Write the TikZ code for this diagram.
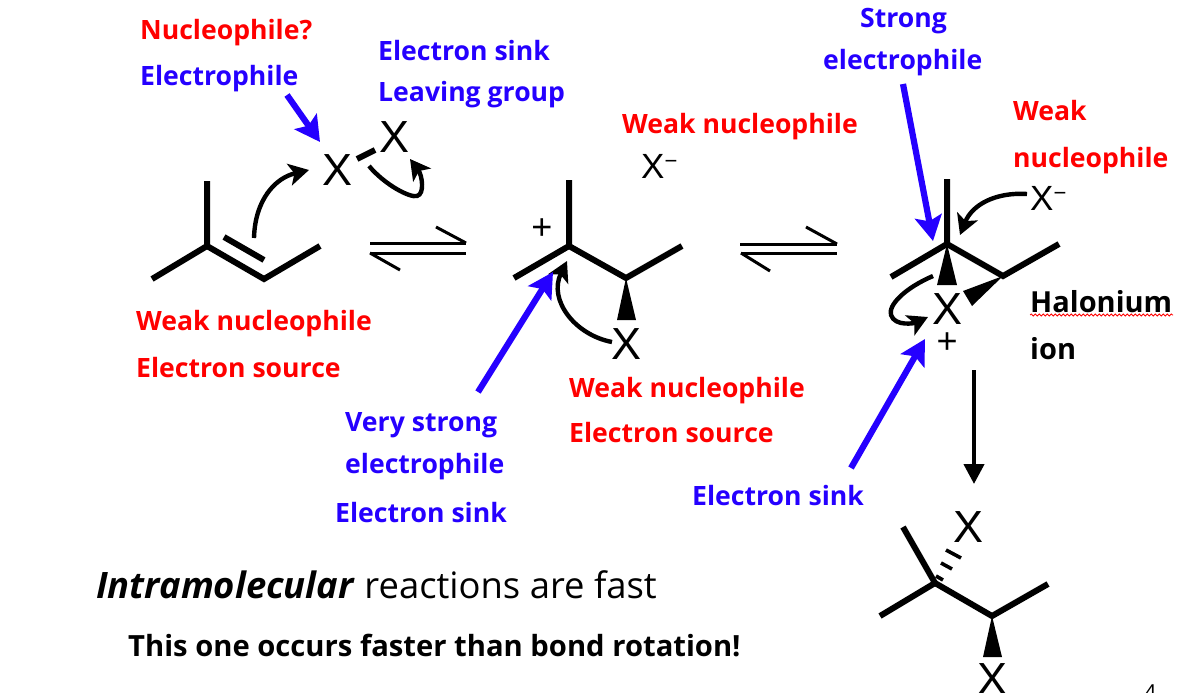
\documentclass[tikz,border=0pt]{standalone}
\usepackage{fontspec}
\setmainfont{Open Sans}
\newfontfamily\chemfont{Liberation Sans}
\usetikzlibrary{arrows.meta,decorations.pathmorphing}
\definecolor{lblred}{HTML}{FF0000}
\definecolor{lblblue}{HTML}{2500FF}
\tikzset{
  x=1pt,y=-1pt,
  lbl/.style={anchor=base west,inner sep=0,font=\fontsize{26.6}{26.6}\selectfont\bfseries},
  redlbl/.style={lbl,text=lblred},
  bluelbl/.style={lbl,text=lblblue},
  blacklbl/.style={lbl,text=black,font=\fontsize{29}{29}\selectfont\bfseries},
  atomx/.style={inner sep=0,font=\chemfont\fontsize{45}{45}\selectfont},
  ionx/.style={anchor=base west,inner sep=0,font=\chemfont\fontsize{35}{35}\selectfont},
  chg/.style={inner sep=0,font=\chemfont\fontsize{36}{36}\selectfont},
  bond/.style={line width=6pt,black},
  wedge/.style={fill=black,draw=none},
  hash/.style={line width=3.6pt,black},
  curly/.style={line width=4.4pt,black,-{Stealth[length=20pt,width=22pt,inset=5pt]}},
  bluearrow/.style={line width=6.2pt,lblblue,-{Stealth[length=25pt,width=27pt,inset=5pt]}},
  eqline/.style={line width=3pt,black},
  eqbarb/.style={line width=3pt,black},
}
\newcommand{\minussup}{\raisebox{10pt}{\fontsize{22}{22}\selectfont −}}
\begin{document}
\begin{tikzpicture}
\fill[white] (0,0) rectangle (1199,693);
\useasboundingbox (0,0) rectangle (1199,693);
% --- molecule 1
\coordinate (a1) at (207,246); \coordinate (a2) at (207,181); \coordinate (a3) at (152,279);
\coordinate (a4) at (264,279); \coordinate (a5) at (320,246);
\coordinate (a6) at (224,237); \coordinate (a7) at (264,260);
\draw[bond,line join=miter] (a2) -- (a1) -- (a3);
\draw[bond,line join=miter] (a1) -- (a4) -- (a5);
\draw[bond] (a6) -- (a7);
\node[atomx] (x1) at (338,170) {X};
\node[atomx] (x2) at (395,137) {X};
\coordinate (b1) at (357,159); \coordinate (b2) at (375,150);
\draw[bond] (b1) -- (b2);
\coordinate (c1) at (254,238); \coordinate (c2) at (309,170);
\draw[curly] (c1) .. controls (255,200) and (275,178) .. (c2);
\coordinate (c3) at (369,166); \coordinate (c4) at (410,159);
\draw[curly] (c3) .. controls (385,185) and (410,198) .. (417,196) .. controls (425,194) and (422,175) .. (c4);
\coordinate (d1) at (287,95); \coordinate (d2) at (320,142);
\draw[bluearrow] (d1) -- (d2);
% --- equilibrium 1
\coordinate (e1) at (370,243); \coordinate (e2) at (466,243); \coordinate (e3) at (436,227);
\coordinate (e4) at (370,253); \coordinate (e5) at (466,253); \coordinate (e6) at (400,270);
\draw[eqline] (e1) -- (e2); \draw[eqbarb] (e3) -- (e2);
\draw[eqline] (e4) -- (e5); \draw[eqbarb] (e4) -- (e6);
% --- molecule 2
\coordinate (f1) at (569,246); \coordinate (f2) at (569,180); \coordinate (f3) at (514,278);
\coordinate (f4) at (626,278); \coordinate (f5) at (682,246);
\coordinate (f6) at (617,320); \coordinate (f7) at (636,320);
\draw[bond] (f2) -- (f1) -- (f3);
\draw[bond] (f1) -- (f4) -- (f5);
\fill[wedge] (f4) -- (f6) -- (f7) -- cycle;
\node[atomx] (x3) at (626,344) {X};
\node[chg] (p1) at (542,229) {+};
\node[ionx] (x4) at (641,178) {X\minussup};
\coordinate (g1) at (612,342); \coordinate (g2) at (567,261);
\draw[curly] (g1) .. controls (575,335) and (548,300) .. (g2);
\coordinate (h1) at (478,392); \coordinate (h2) at (553,272);
\draw[bluearrow] (h1) -- (h2);
% --- equilibrium 2
\coordinate (i1) at (740,244); \coordinate (i2) at (837,244); \coordinate (i3) at (806,227);
\coordinate (i4) at (741,253); \coordinate (i5) at (837,253); \coordinate (i6) at (770,271);
\draw[eqline] (i1) -- (i2); \draw[eqbarb] (i3) -- (i2);
\draw[eqline] (i4) -- (i5); \draw[eqbarb] (i4) -- (i6);
% --- molecule 3
\coordinate (j1) at (947,244); \coordinate (j2) at (947,179); \coordinate (j3) at (891,277);
\coordinate (j4) at (1003,276); \coordinate (j5) at (1059,244);
\coordinate (j6) at (937,285); \coordinate (j7) at (957,285);
\coordinate (j8) at (963,291); \coordinate (j9) at (972,306);
\draw[bond] (j2) -- (j1) -- (j3);
\draw[bond] (j1) -- (j4) -- (j5);
\fill[wedge] (j1) -- (j6) -- (j7) -- cycle;
\fill[wedge] (j4) -- (j8) -- (j9) -- cycle;
\node[atomx] (x5) at (947,309) {X};
\node[chg] (p2) at (947,343) {+};
\node[ionx] (x6) at (1030,210) {X\minussup};
\coordinate (k1) at (1027,194); \coordinate (k2) at (960,235);
\draw[curly] (k1) .. controls (995,192) and (972,205) .. (k2);
\coordinate (k3) at (933,276); \coordinate (k4) at (928,317);
\draw[curly] (k3) .. controls (905,288) and (888,305) .. (891,315) .. controls (895,327) and (915,323) .. (k4);
\coordinate (l1) at (903,84); \coordinate (l2) at (933,241);
\draw[bluearrow] (l1) -- (l2);
\coordinate (l3) at (851,468); \coordinate (l4) at (925,339);
\draw[bluearrow] (l3) -- (l4);
\coordinate (m1) at (974,370); \coordinate (m2) at (974,484);
\draw[line width=4.2pt,black,-{Stealth[length=20pt,width=20pt,inset=0pt]}] (m1) -- (m2);
% --- molecule 4
\coordinate (n1) at (935,583); \coordinate (n2) at (903,527); \coordinate (n3) at (880,616);
\coordinate (n4) at (992,616); \coordinate (n5) at (1048,584);
\coordinate (n6) at (983,657); \coordinate (n7) at (1002,657);
\draw[bond] (n2) -- (n1) -- (n3);
\draw[bond] (n1) -- (n4) -- (n5);
\fill[wedge] (n4) -- (n6) -- (n7) -- cycle;
\node[atomx] (x7) at (968,527) {X};
\node[atomx] (x8) at (992,679) {X};
\coordinate (o1) at (936,576); \coordinate (o2) at (943,580);
\coordinate (o3) at (941,563); \coordinate (o4) at (952,569);
\coordinate (o5) at (946,550); \coordinate (o6) at (961,558);
\draw[hash] (o1) -- (o2); \draw[hash] (o3) -- (o4); \draw[hash] (o5) -- (o6);
% --- labels
\node[redlbl] (t1) at (140,40) {Nucleophile?};
\node[bluelbl] (t2) at (140,85) {Electrophile};
\node[bluelbl] (t3) at (378,61) {Electron sink};
\node[bluelbl] (t4) at (378,101) {Leaving group};
\node[redlbl] (t5) at (622,133) {Weak nucleophile};
\node[bluelbl] (t6) at (860,28) {Strong};
\node[bluelbl] (t7) at (823,70) {electrophile};
\node[redlbl] (t8) at (1013,120) {Weak};
\node[redlbl] (t9) at (1013,167) {nucleophile};
\node[blacklbl] (t10) at (1030,312) {Halonium};
\node[blacklbl] (t11) at (1030,359) {ion};
\coordinate (q1) at (1030,315); \coordinate (q2) at (1173,315);
\draw[lblred,line width=0.8pt,decorate,decoration={snake,amplitude=1pt,segment length=4pt}] (q1) -- (q2);
\node[redlbl] (t12) at (136,330) {Weak nucleophile};
\node[redlbl] (t13) at (136,377) {Electron source};
\node[bluelbl] (t14) at (345,431) {Very strong};
\node[bluelbl] (t15) at (345,473) {electrophile};
\node[bluelbl] (t16) at (335,522) {Electron sink};
\node[redlbl] (t17) at (569,397) {Weak nucleophile};
\node[redlbl] (t18) at (569,442) {Electron source};
\node[bluelbl] (t19) at (692,505) {Electron sink};
\node[anchor=base west,inner sep=0,font=\fontsize{36.4}{36.4}\selectfont] (t20) at (96,598) {\textbf{\textit{Intramolecular}} reactions are fast};
\node[blacklbl,font=\fontsize{29.2}{29.2}\selectfont\bfseries] (t21) at (128,656) {This one occurs faster than bond rotation!};
\node[anchor=base west,inner sep=0,font=\chemfont\fontsize{20}{20}\selectfont] (t22) at (1145,698) {4};
\end{tikzpicture}
\end{document}
